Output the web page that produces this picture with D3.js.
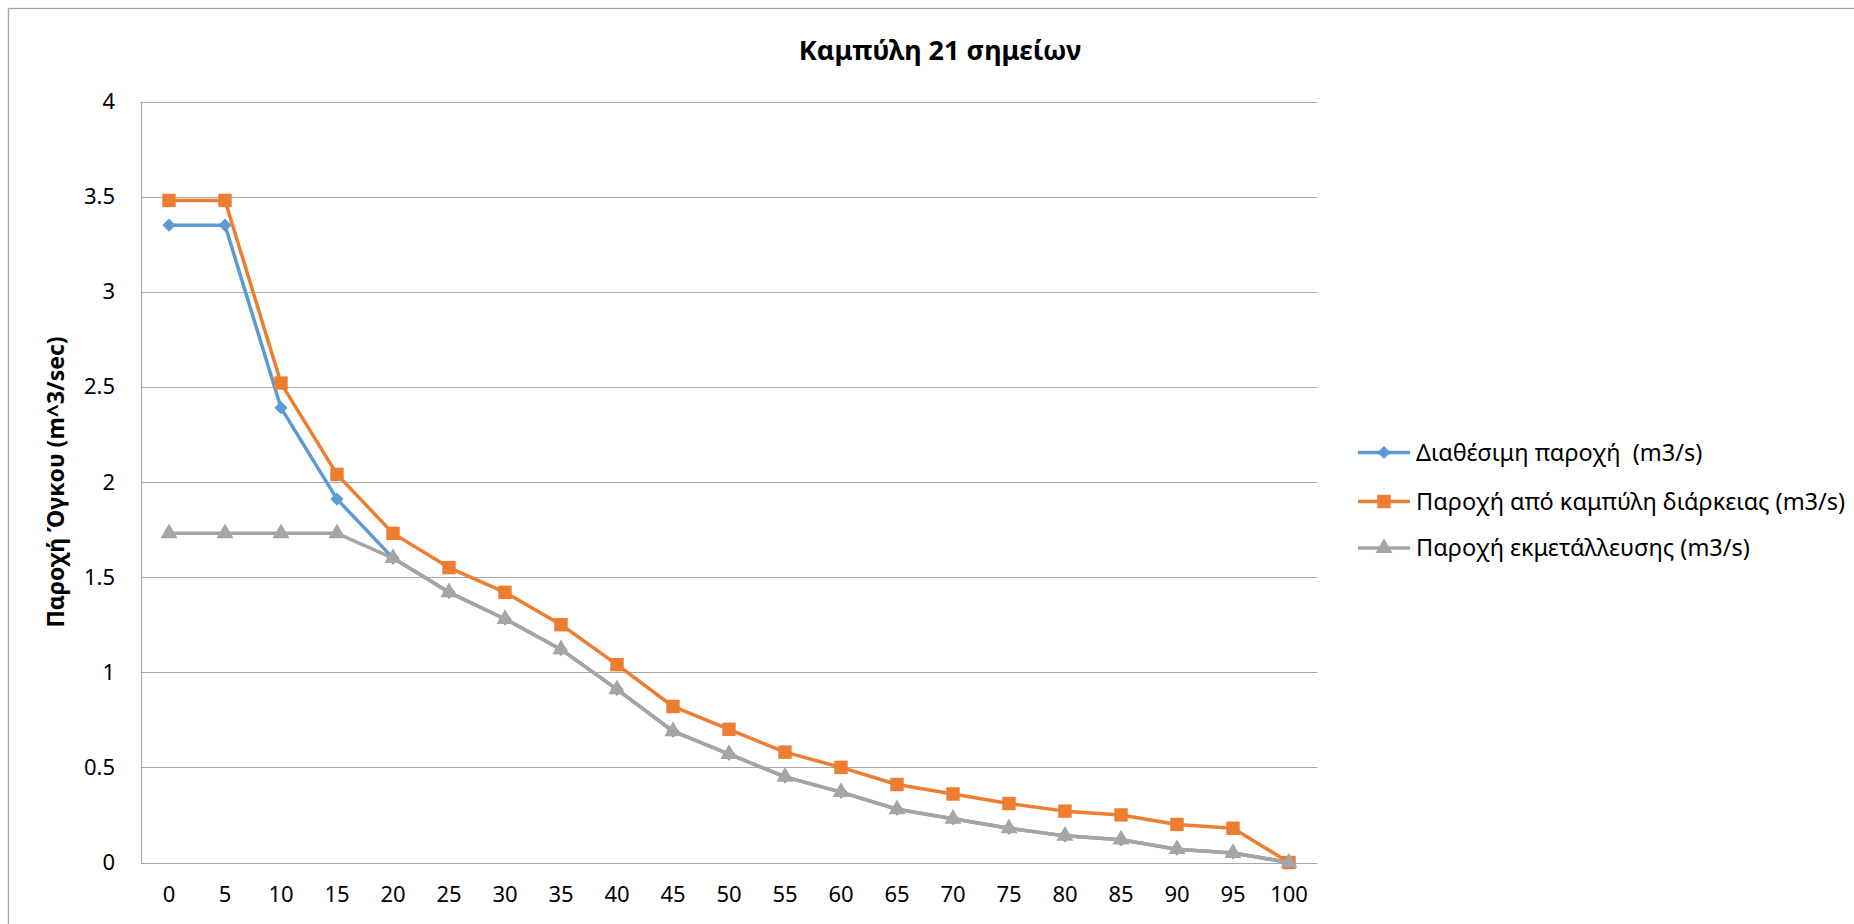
<!DOCTYPE html>
<html>
<head>
<meta charset="utf-8">
<script src="https://cdn.jsdelivr.net/npm/d3@7"></script>
<style>
  html, body { margin: 0; padding: 0; background: #fff; }
  svg { display: block; font-family: "Noto Sans", "Open Sans", sans-serif; }
  text { white-space: pre; }
</style>
</head>
<body>
<svg id="chart" width="1854" height="924"></svg>
<script>
// ---- data ----
const categories = ["0","5","10","15","20","25","30","35","40","45","50","55","60","65","70","75","80","85","90","95","100"];
const availableFlow = [3.35,3.35,2.39,1.91,1.60,1.42,1.28,1.12,0.91,0.69,0.57,0.45,0.37,0.28,0.23,0.18,0.14,0.12,0.07,0.05,0];
const durationFlow  = [3.48,3.48,2.52,2.04,1.73,1.55,1.42,1.25,1.04,0.82,0.70,0.58,0.50,0.41,0.36,0.31,0.27,0.25,0.20,0.18,0];
const exploitFlow   = [1.73,1.73,1.73,1.73,1.60,1.42,1.28,1.12,0.91,0.69,0.57,0.45,0.37,0.28,0.23,0.18,0.14,0.12,0.07,0.05,0];
const yTicks = [0,0.5,1,1.5,2,2.5,3,3.5,4];
const seriesNames = ["Διαθέσιμη παροχή  (m3/s)", "Παροχή από καμπύλη διάρκειας (m3/s)", "Παροχή εκμετάλλευσης (m3/s)"];
const titleText = "Καμπύλη 21 σημείων";
const yLabelText = "Παροχή Όγκου (m^3/sec)";

// ---- layout ----
const svg = d3.select("#chart");
const plot = { left: 141, right: 1317, top: 101.5, bottom: 862.5 };
const colors = ["#5B9BD5", "#ED7D31", "#A5A5A5"];
const symbols = [d3.symbolDiamond2 || d3.symbolDiamond, d3.symbolSquare, d3.symbolTriangle];
const symSizes = [110, 180, 125];

// chart area border
svg.append("rect").attr("x", 8.5).attr("y", 8.5).attr("width", 1900).attr("height", 1000)
  .attr("fill", "none").attr("stroke", "#a6a6a6").attr("stroke-width", 1.3);

const x = d3.scaleBand().domain(categories).range([plot.left, plot.right]).padding(0);
const y = d3.scaleLinear().domain([0, 4]).range([plot.bottom, plot.top]);

// gridlines
svg.append("g").selectAll("line").data(yTicks).join("line")
  .attr("x1", plot.left).attr("x2", plot.right)
  .attr("y1", d => Math.round(y(d)) + 0.5).attr("y2", d => Math.round(y(d)) + 0.5)
  .attr("stroke", "#a6a6a6").attr("stroke-width", 1.2);

// left axis line
svg.append("line").attr("x1", plot.left + 0.5).attr("x2", plot.left + 0.5)
  .attr("y1", plot.top).attr("y2", plot.bottom + 1)
  .attr("stroke", "#a6a6a6").attr("stroke-width", 1.2);

// y axis labels
const yAxis = d3.axisLeft(y).tickValues(yTicks).tickSize(0).tickPadding(26).tickFormat(d => String(d));
const gy = svg.append("g").attr("transform", `translate(${plot.left},0)`).call(yAxis);
gy.select(".domain").remove();
gy.selectAll("text").attr("font-size", 22).attr("fill", "#000").attr("font-family", "Noto Sans");

// x axis labels
const xAxis = d3.axisBottom(x).tickSize(0).tickPadding(24);
const gx = svg.append("g").attr("transform", `translate(0,${plot.bottom})`).call(xAxis);
gx.select(".domain").remove();
gx.selectAll("text").attr("font-size", 22).attr("fill", "#000").attr("font-family", "Noto Sans");

// series
const allSeries = [availableFlow, durationFlow, exploitFlow];
const cx = (i) => x(categories[i]) + x.bandwidth() / 2;
const line = d3.line().x((d, i) => cx(i)).y(d => y(d));
allSeries.forEach((vals, s) => {
  const g = svg.append("g");
  g.append("path").datum(vals).attr("d", line).attr("fill", "none")
    .attr("stroke", colors[s]).attr("stroke-width", 3.5).attr("stroke-linejoin", "round");
  g.selectAll("path.m").data(vals).join("path").attr("class", "m")
    .attr("transform", (d, i) => `translate(${cx(i)},${y(d)})`)
    .attr("d", d3.symbol().type(symbols[s]).size(symSizes[s]))
    .attr("fill", colors[s]);
});

// title
svg.append("text").attr("x", 940).attr("y", 60).attr("text-anchor", "middle")
  .attr("font-size", 27).attr("font-weight", "bold").attr("fill", "#000").text(titleText);

// y label
svg.append("text").attr("transform", `translate(64,${(plot.top + plot.bottom) / 2}) rotate(-90)`)
  .attr("text-anchor", "middle").attr("font-size", 23).attr("font-weight", "bold").attr("fill", "#000")
  .text(yLabelText);

// legend
const legendRows = [452.5, 501.5, 548];
seriesNames.forEach((name, s) => {
  const g = svg.append("g").attr("transform", `translate(1358,${legendRows[s]})`);
  g.append("line").attr("x1", 0).attr("x2", 52).attr("y1", 0).attr("y2", 0)
    .attr("stroke", colors[s]).attr("stroke-width", 3.5);
  g.append("path").attr("transform", "translate(26,0)")
    .attr("d", d3.symbol().type(symbols[s]).size(symSizes[s])).attr("fill", colors[s]);
  g.append("text").attr("x", 58).attr("y", 0).attr("dy", "0.35em")
    .attr("font-size", 23.5).attr("fill", "#000").text(name);
});
</script>
</body>
</html>
